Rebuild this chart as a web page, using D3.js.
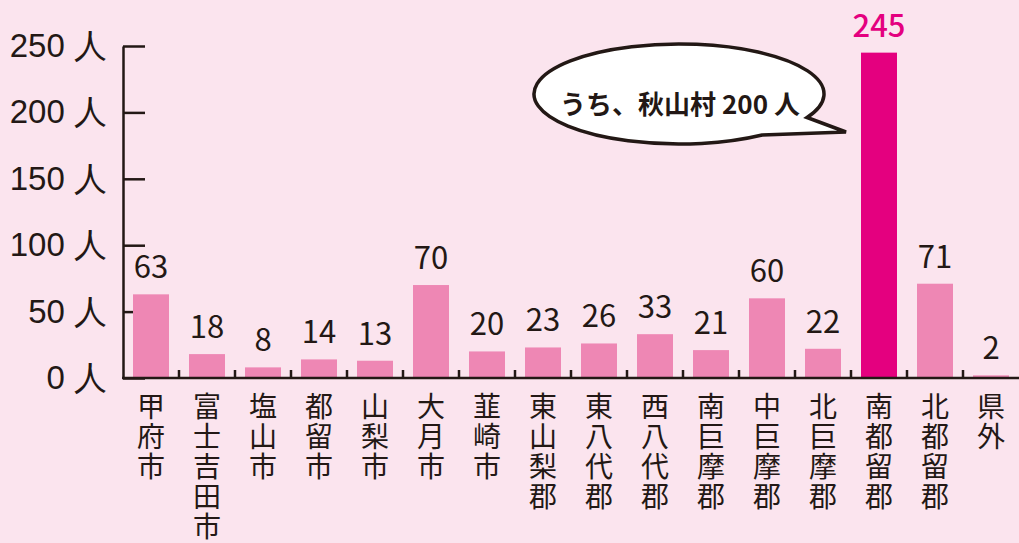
<!DOCTYPE html>
<html lang="ja">
<head>
    <meta charset="UTF-8">
    <title>地域別人数</title>
    <script src="https://d3js.org/d3.v7.min.js"></script>
    <style>
        body { margin: 0; background: #fbe4ee; }
        svg { display: block; font-family: "Noto Sans CJK JP", "Noto Sans", sans-serif; }
        .axis path, .axis line { stroke: #231815; stroke-width: 2.5; }
        .axis text { font-size: 33px; fill: #231815; }
    </style>
</head>
<body>
    <svg width="1019" height="543"></svg>

    <script>
        // data
        const categories = ["甲府市", "富士吉田市", "塩山市", "都留市", "山梨市", "大月市", "韮崎市", "東山梨郡",
            "東八代郡", "西八代郡", "南巨摩郡", "中巨摩郡", "北巨摩郡", "南都留郡", "北都留郡", "県外"];
        const values = [63, 18, 8, 14, 13, 70, 20, 23, 26, 33, 21, 60, 22, 245, 71, 2];
        const highlight = "南都留郡";
        const yTicks = [0, 50, 100, 150, 200, 250];
        const calloutText = "うち、秋山村 200 人";

        const data = categories.map((c, i) => ({ name: c, value: values[i] }));

        const plotLeft = 123, plotRight = 1019, plotTop = 46, plotBottom = 378;
        const svg = d3.select("svg");

        const x = d3.scaleBand()
            .domain(categories)
            .range([plotLeft, plotRight])
            .paddingInner(20 / 56)
            .paddingOuter(10 / 56);

        const y = d3.scaleLinear()
            .domain([0, 250])
            .range([plotBottom, plotTop]);

        // y axis: ticks point right, labels on left
        svg.append("g")
            .attr("class", "axis y-axis")
            .attr("transform", "translate(" + plotLeft + ",0)")
            .call(d3.axisLeft(y)
                .tickValues(yTicks)
                .tickSizeInner(-22)
                .tickSizeOuter(0)
                .tickPadding(16)
                .tickFormat(d => d + " 人"));

        // bars
        svg.selectAll(".bar")
            .data(data)
            .enter()
            .append("rect")
            .attr("class", "bar")
            .attr("x", d => x(d.name))
            .attr("y", d => y(d.value))
            .attr("width", x.bandwidth())
            .attr("height", d => plotBottom - y(d.value))
            .attr("fill", d => d.name === highlight ? "#e4007f" : "#ee87b4");

        // value labels
        svg.selectAll(".val")
            .data(data)
            .enter()
            .append("text")
            .attr("class", "val")
            .attr("x", d => x(d.name) + x.bandwidth() / 2)
            .attr("y", d => y(d.value) - 16)
            .attr("text-anchor", "middle")
            .attr("font-size", 31)
            .attr("fill", d => d.name === highlight ? "#e4007f" : "#231815")
            .attr("font-weight", d => d.name === highlight ? 500 : 400)
            .text(d => d.value);

        // x axis baseline and separator ticks
        const xAxis = svg.append("g").attr("class", "axis x-axis");
        xAxis.append("line")
            .attr("x1", plotLeft - 1).attr("x2", plotRight)
            .attr("y1", plotBottom).attr("y2", plotBottom);
        const gap = (x.step() - x.bandwidth()) / 2;
        xAxis.selectAll(".sep")
            .data(categories.slice(1))
            .enter()
            .append("line")
            .attr("class", "sep")
            .attr("x1", d => x(d) - gap)
            .attr("x2", d => x(d) - gap)
            .attr("y1", plotBottom)
            .attr("y2", plotBottom - 8);

        // vertical category labels, one character per line
        const cat = svg.selectAll(".cat")
            .data(categories)
            .enter()
            .append("text")
            .attr("class", "cat")
            .attr("text-anchor", "middle")
            .attr("font-size", 28)
            .attr("fill", "#231815");
        cat.selectAll("tspan")
            .data(d => Array.from(d).map(ch => ({ ch: ch, name: d })))
            .enter()
            .append("tspan")
            .attr("x", d => x(d.name) + x.bandwidth() / 2)
            .attr("y", (d, i) => 417 + i * 30)
            .text(d => d.ch);

        // speech bubble callout
        const cx = 679, cy = 94, rx = 145, ry = 50;
        const pt = a => [cx + rx * Math.cos(a * Math.PI / 180), cy + ry * Math.sin(a * Math.PI / 180)];
        const p1 = pt(28), p2 = pt(55);
        const tip = [846, 132];
        const bubble = "M" + p2[0] + "," + p2[1] +
            " A" + rx + "," + ry + " 0 1 1 " + p1[0] + "," + p1[1] +
            " L" + tip[0] + "," + tip[1] + " Z";
        svg.append("path")
            .attr("d", bubble)
            .attr("fill", "#ffffff")
            .attr("stroke", "#231815")
            .attr("stroke-width", 3.5)
            .attr("stroke-linejoin", "miter");
        svg.append("text")
            .attr("x", 680)
            .attr("y", 114)
            .attr("text-anchor", "middle")
            .attr("font-size", 26)
            .attr("font-weight", 700)
            .attr("fill", "#231815")
            .text(calloutText);
    </script>
</body>
</html>
